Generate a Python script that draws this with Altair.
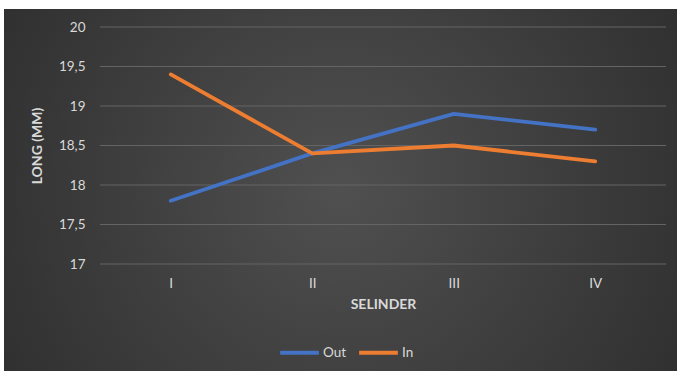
import altair as alt
import pandas as pd

categories = ["I", "II", "III", "IV"]
out_values = [17.8, 18.4, 18.9, 18.7]
in_values = [19.4, 18.4, 18.5, 18.3]
series_names = ["Out", "In"]
series_colors = ["#4472C4", "#ED7D31"]
y_ticks = [17, 17.5, 18, 18.5, 19, 19.5, 20]

rows = []
for c, v in zip(categories, out_values):
    rows.append({"Selinder": c, "Seri": "Out", "Nilai": v})
for c, v in zip(categories, in_values):
    rows.append({"Selinder": c, "Seri": "In", "Nilai": v})
df = pd.DataFrame(rows)
grid_df = pd.DataFrame({"Nilai": y_ticks})

W, H = 566, 237
FONT = "Lato"
LBL = 13.5
TTL = 14

y_scale = alt.Scale(domain=[17, 20], nice=False, zero=False)
y_axis = alt.Axis(
    title="LONG (MM)",
    values=y_ticks,
    labelExpr="replace(toString(datum.value), '.', ',')",
    labelOverlap=False,
    domain=False,
    ticks=False,
    grid=False,
    zindex=1,
    labelPadding=15,
    labelColor="#D9D9D9",
    labelFontSize=LBL,
    labelFont=FONT,
    titleFont=FONT,
    titleFontSize=TTL,
    titleFontWeight="bold",
    titleColor="#D9D9D9",
    titlePadding=14,
)

bg = alt.Chart(pd.DataFrame({"a": [0]})).mark_rect(
    fill={
        "gradient": "radial",
        "x1": 0.5, "y1": 0.5, "r1": 0,
        "x2": 0.5, "y2": 0.5, "r2": 0.75,
        "stops": [
            {"offset": 0, "color": "#505050"},
            {"offset": 1, "color": "#262626"},
        ],
    },
    stroke=None,
).encode(
    x=alt.value(-96), x2=alt.value(W + 11),
    y=alt.value(-18), y2=alt.value(H + 107),
)

grid = alt.Chart(grid_df).mark_rule(color="#646464", strokeWidth=1).encode(
    y=alt.Y("Nilai:Q", scale=y_scale, axis=y_axis),
    x=alt.value(0),
    x2=alt.value(W),
)

lines = alt.Chart(df).mark_line(strokeWidth=3.8, strokeCap="round", strokeJoin="round").encode(
    x=alt.X(
        "Selinder:N",
        sort=categories,
        scale=alt.Scale(type="point", padding=0.5),
        axis=alt.Axis(
            title="SELINDER",
            labelAngle=0,
            domain=False,
            ticks=False,
            grid=False,
            zindex=1,
            labelPadding=12,
            labelColor="#D9D9D9",
            labelFontSize=LBL,
            labelFont=FONT,
            titleFont=FONT,
            titleFontSize=TTL,
            titleFontWeight="bold",
            titleColor="#D9D9D9",
            titlePadding=8,
        ),
    ),
    y=alt.Y("Nilai:Q", scale=y_scale, axis=y_axis),
    color=alt.Color(
        "Seri:N",
        scale=alt.Scale(domain=series_names, range=series_colors),
        legend=alt.Legend(
            title=None,
            orient="none",
            direction="horizontal",
            legendX=178,
            legendY=304,
            symbolType="stroke",
            symbolStrokeWidth=4,
            symbolSize=1500,
            labelColor="#D9D9D9",
            labelFont=FONT,
            labelFontSize=LBL,
            labelOffset=2,
            columnPadding=4,
        ),
    ),
)

chart = alt.layer(bg, grid, lines).properties(
    width=W,
    height=H,
    background="white",
    padding={"left": 100, "top": 27, "right": 11, "bottom": 107},
    autosize=alt.AutoSizeParams(type="none"),
).configure_view(stroke=None)

chart.save("out.html", embed_options={"renderer": "svg", "actions": False})
